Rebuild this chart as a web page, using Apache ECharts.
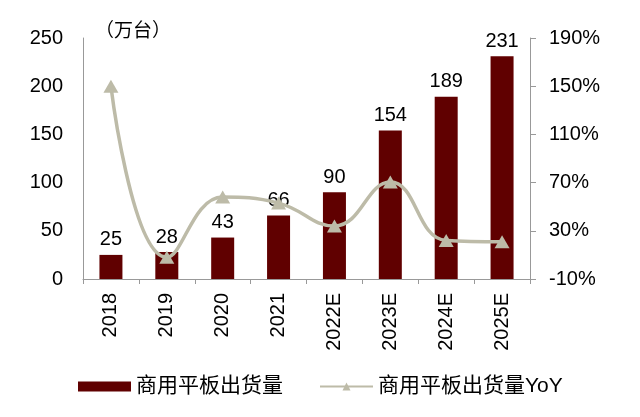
<!DOCTYPE html>
<html><head><meta charset="utf-8">
<script src="https://cdn.jsdelivr.net/npm/echarts@6/dist/echarts.min.js"></script>
<style>html,body{margin:0;padding:0;background:#fff}#c{width:640px;height:417px}</style>
</head><body><div id="c"></div>
<script>
const categories = ['2018','2019','2020','2021','2022E','2023E','2024E','2025E'];
const shipments = [25, 28, 43, 66, 90, 154, 189, 231];
const yoy = [150, 8, 58, 53, 34, 70.5, 22, 21];
const leftTicks = [0, 250, 50];
const rightTicks = [-10, 190, 40];
const font = '"Liberation Sans", Arial, sans-serif';
const cjk = '"Liberation Sans", "Noto Sans CJK SC", sans-serif';
const chart = echarts.init(document.getElementById('c'));
chart.setOption({
  animation: false,
  textStyle: {fontFamily: cjk},
  grid: {left: 83, right: 110, top: 38, bottom: 138},
  legend: {
    top: 371, left: 73, itemGap: 36, itemWidth: 53, itemHeight: 10,
    textStyle: {fontSize: 21, color: '#000', fontFamily: cjk},
    data: [{name: '商用平板出货量', icon: 'rect'}, {name: '商用平板出货量YoY'}]
  },
  xAxis: {
    type: 'category', data: categories,
    axisLine: {lineStyle: {color: '#999'}},
    axisTick: {show: true, length: 5, lineStyle: {color: '#999'}},
    axisLabel: {rotate: 90, fontSize: 20, color: '#000', fontFamily: font, margin: 14}
  },
  yAxis: [{
    type: 'value', min: leftTicks[0], max: leftTicks[1], interval: leftTicks[2],
    name: '（万台）', nameLocation: 'end', nameGap: 6,
    nameTextStyle: {fontSize: 19, color: '#000', align: 'left', verticalAlign: 'middle', padding: [0, 0, 0, 12]},
    axisLine: {show: true, lineStyle: {color: '#999'}},
    axisTick: {show: false},
    splitLine: {show: false},
    axisLabel: {fontSize: 20, color: '#000', fontFamily: font, margin: 20}
  }, {
    type: 'value', min: rightTicks[0], max: rightTicks[1], interval: rightTicks[2],
    position: 'right',
    axisLine: {show: true, lineStyle: {color: '#999'}},
    axisTick: {show: true, length: 6, lineStyle: {color: '#999'}},
    splitLine: {show: false},
    axisLabel: {fontSize: 20, color: '#000', fontFamily: font, margin: 19, formatter: '{value}%'}
  }],
  series: [{
    name: '商用平板出货量', type: 'bar', data: shipments, barWidth: 23,
    itemStyle: {color: '#600000'},
    label: {show: true, position: 'top', distance: 5, fontSize: 20, color: '#000', fontFamily: font}
  }, {
    name: '商用平板出货量YoY', type: 'line', yAxisIndex: 1, data: yoy, smooth: 0.45,
    symbol: 'triangle', symbolSize: [15, 13],
    lineStyle: {color: '#BDBBA8', width: 3.5},
    itemStyle: {color: '#BDBBA8'}
  }]
});
</script></body></html>
